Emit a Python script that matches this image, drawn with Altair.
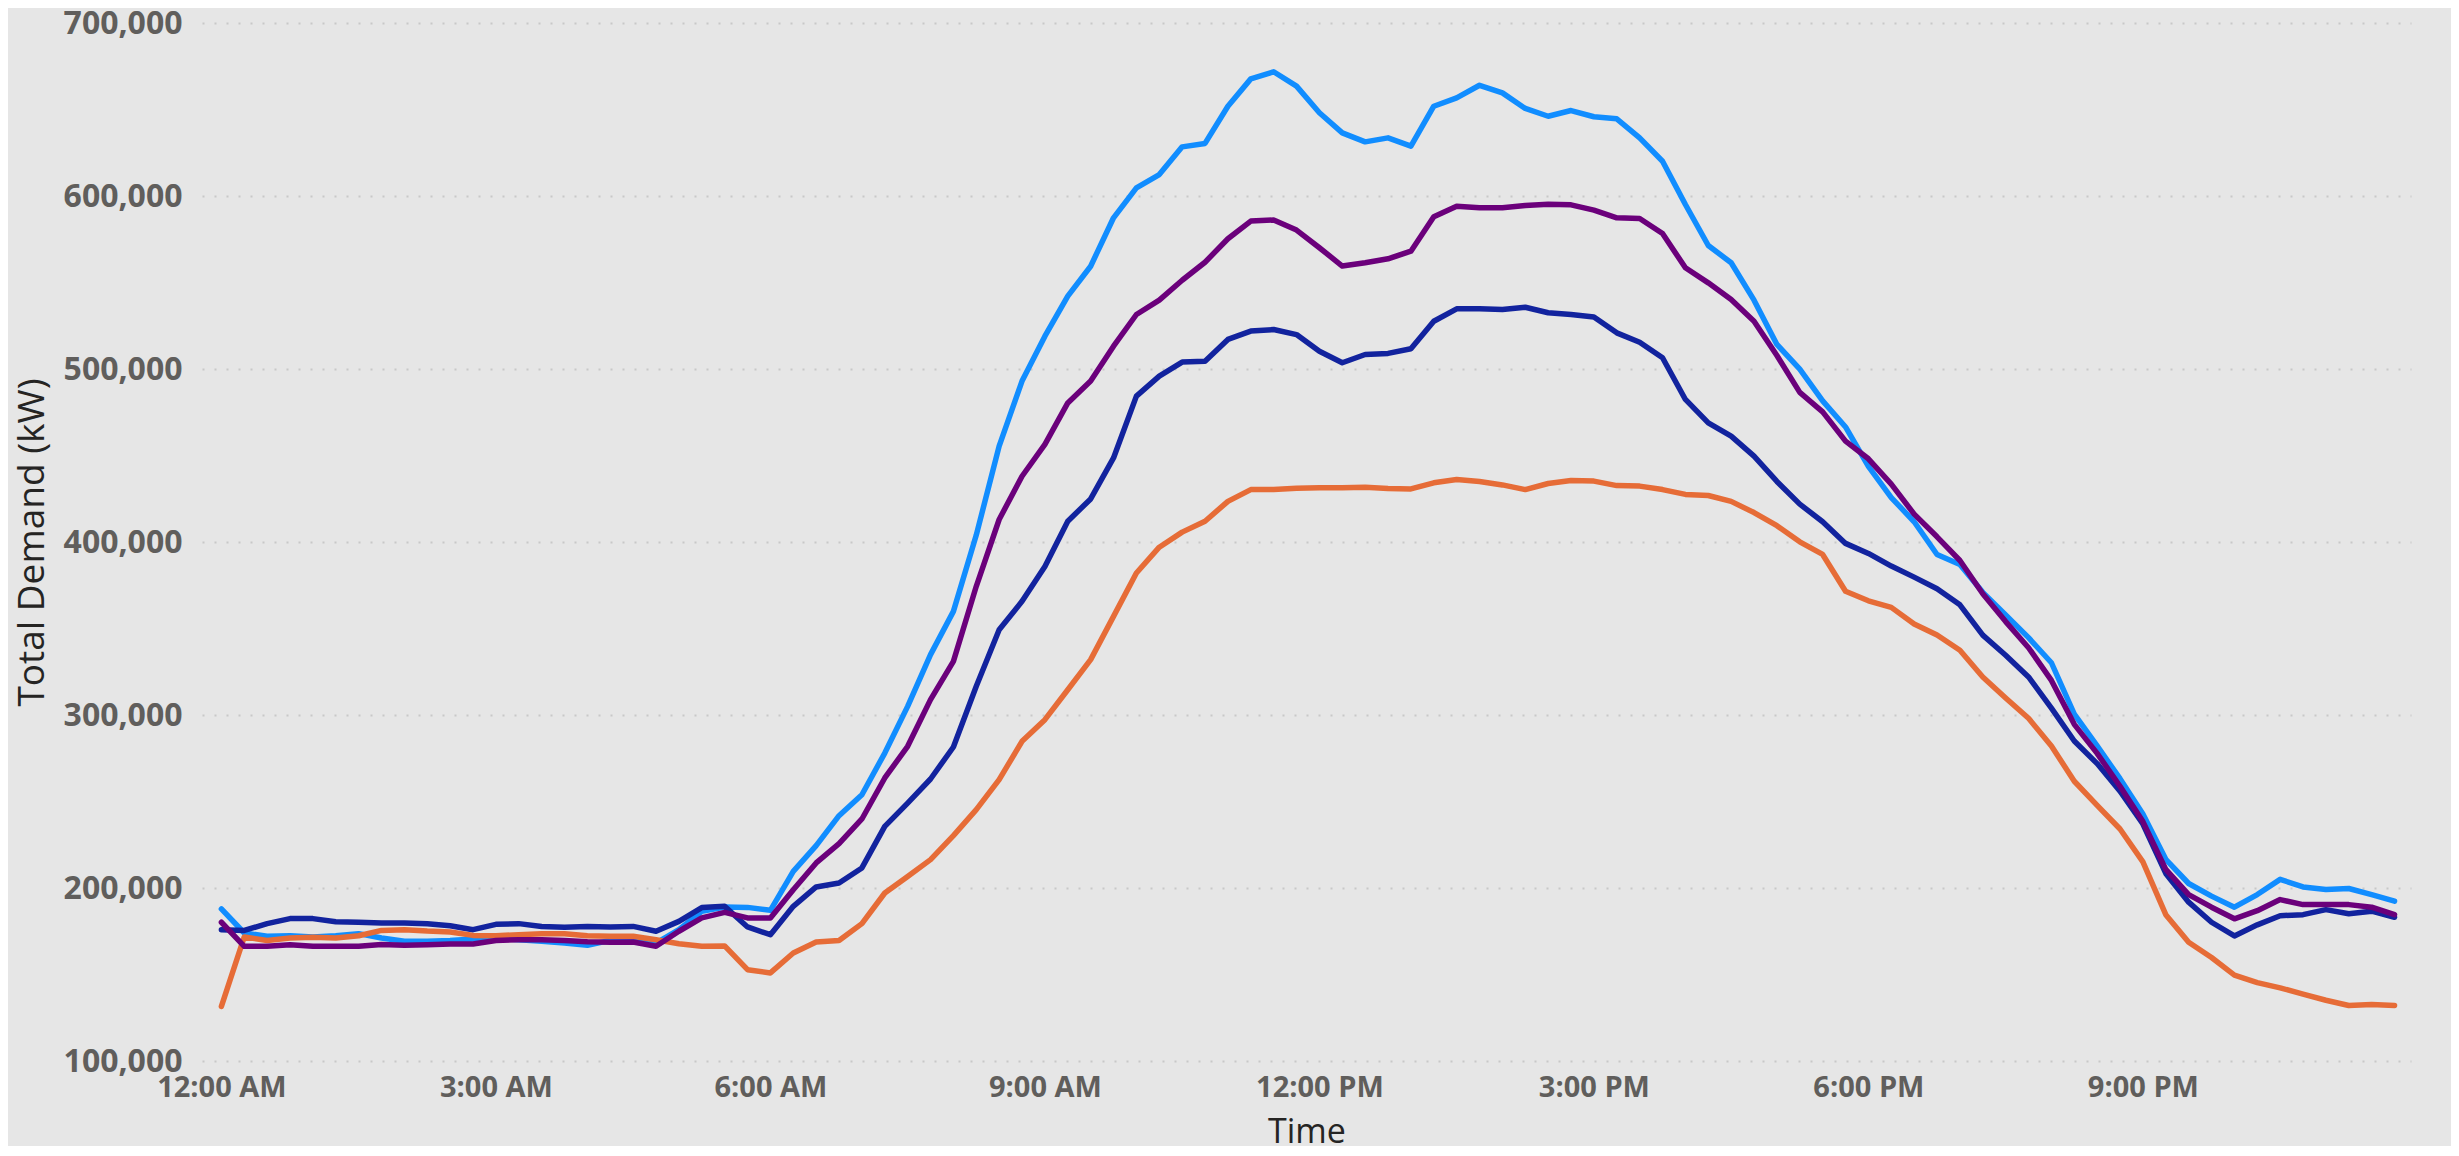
import altair as alt
import pandas as pd

# 15-minute intervals over one day (hours since midnight)
TIME_HOURS = [q / 4 for q in range(96)]

SERIES = ["Series 1", "Series 2", "Series 3", "Series 4"]
COLORS = ["#118DFF", "#12239E", "#E66C37", "#6B007B"]

# values in thousands of kW
S1_LIGHT_BLUE = [
    187.9, 174.0, 172.1, 172.4, 171.7, 172.4, 173.6, 171.1, 169.2, 169.2, 169.7, 170.5,
    171.1, 170.1, 169.2, 168.2, 166.9, 169.7, 170.1, 168.2, 175.9, 186.5, 189.0, 188.8,
    187.1, 209.6, 224.5, 241.8, 253.9, 278.0, 305.0, 334.9, 359.9, 404.0, 455.4, 493.0,
    519.0, 542.1, 559.4, 587.4, 604.7, 612.4, 628.4, 630.4, 651.9, 667.7, 671.8, 663.5,
    648.1, 636.5, 631.3, 633.6, 628.8, 651.9, 656.7, 664.0, 659.6, 650.6, 646.1, 649.4,
    645.8, 644.6, 633.6, 620.1, 595.1, 571.4, 561.4, 539.8, 514.2, 499.9, 481.6, 466.5,
    443.7, 425.7, 411.7, 392.8, 387.0, 370.9, 357.8, 344.7, 330.2, 300.5, 282.1, 263.2,
    242.8, 216.6, 202.6, 195.3, 188.9, 196.2, 205.0, 200.6, 199.1, 199.7, 196.2, 192.4,
]
S2_DARK_BLUE = [
    175.9, 175.5, 179.4, 182.3, 182.3, 180.5, 180.2, 179.8, 179.8, 179.4, 178.2, 175.9,
    179.0, 179.4, 177.8, 177.3, 177.8, 177.5, 177.8, 175.0, 180.7, 188.7, 189.4, 177.5,
    173.0, 189.4, 200.6, 202.9, 211.6, 235.6, 249.1, 263.0, 281.5, 316.6, 349.3, 365.7,
    385.9, 412.0, 424.9, 448.6, 484.3, 495.9, 504.0, 504.5, 517.1, 521.9, 522.8, 519.9,
    510.3, 503.6, 508.4, 509.0, 511.7, 527.6, 534.8, 534.8, 534.4, 535.7, 532.5, 531.5,
    530.0, 520.9, 515.5, 506.5, 482.4, 468.9, 461.2, 449.6, 435.0, 421.9, 411.7, 399.2,
    393.4, 386.1, 379.7, 373.0, 363.7, 346.2, 334.5, 322.0, 304.0, 285.0, 271.9, 255.9,
    237.0, 208.4, 191.8, 180.2, 172.3, 178.7, 184.0, 184.6, 187.5, 185.1, 186.6, 183.1,
]
S3_ORANGE = [
    131.6, 171.7, 169.7, 171.1, 171.5, 171.1, 172.4, 175.5, 175.9, 175.1, 174.6, 172.6,
    172.4, 173.0, 173.6, 173.6, 172.4, 172.1, 172.1, 170.1, 167.8, 166.3, 166.5, 152.8,
    150.9, 162.4, 168.8, 169.7, 179.4, 197.1, 206.7, 216.4, 230.3, 245.3, 262.6, 284.8,
    297.3, 314.6, 332.0, 357.0, 382.1, 397.0, 405.7, 412.0, 423.5, 430.3, 430.3, 431.1,
    431.3, 431.3, 431.7, 430.9, 430.7, 434.2, 436.1, 435.0, 433.0, 430.3, 433.8, 435.5,
    435.2, 432.6, 432.3, 430.3, 427.5, 426.9, 423.5, 417.0, 409.4, 400.1, 392.8, 371.5,
    366.0, 362.2, 352.6, 346.2, 337.4, 322.0, 309.8, 298.1, 282.1, 261.7, 247.8, 234.1,
    215.1, 184.6, 168.6, 159.8, 149.6, 145.3, 142.3, 138.6, 135.1, 132.1, 132.7, 132.1,
]
S4_PURPLE = [
    180.2, 166.3, 166.3, 167.2, 166.3, 166.3, 166.3, 167.4, 166.9, 167.2, 167.6, 167.6,
    169.7, 170.1, 170.1, 169.7, 169.0, 168.6, 168.8, 166.3, 175.0, 182.7, 185.9, 182.7,
    182.7, 199.0, 214.5, 225.6, 239.9, 263.6, 281.9, 308.9, 331.0, 374.4, 413.0, 438.0,
    456.4, 480.4, 493.0, 513.2, 531.5, 539.8, 551.3, 561.7, 575.3, 585.5, 586.1, 580.3,
    570.1, 559.5, 561.4, 563.7, 568.1, 588.0, 594.1, 593.2, 593.2, 594.5, 595.3, 594.9,
    591.8, 587.4, 587.0, 578.3, 558.5, 549.8, 540.2, 527.6, 507.8, 486.5, 475.2, 458.3,
    448.1, 433.5, 416.1, 403.0, 389.3, 370.1, 354.0, 338.9, 320.0, 294.6, 277.8, 258.8,
    238.4, 210.8, 196.2, 188.9, 182.2, 186.9, 193.3, 190.4, 190.4, 190.4, 188.9, 184.6,
]

X_TICKS = [0, 3, 6, 9, 12, 15, 18, 21]
X_TICK_LABELS = ["12:00 AM", "3:00 AM", "6:00 AM", "9:00 AM",
                 "12:00 PM", "3:00 PM", "6:00 PM", "9:00 PM"]
Y_TICKS = [100000, 200000, 300000, 400000, 500000, 600000, 700000]

rows = []
for name, vals in zip(SERIES, [S1_LIGHT_BLUE, S2_DARK_BLUE, S3_ORANGE, S4_PURPLE]):
    for t, v in zip(TIME_HOURS, vals):
        rows.append({"series": name, "t": t, "v": v * 1000})
df = pd.DataFrame(rows)

label_expr = "[" + ",".join("'" + s + "'" for s in X_TICK_LABELS) + "][round(datum.value / 3)]"

FONT = "Open Sans"

chart = alt.Chart(df).mark_line(
    strokeWidth=5.5, strokeCap="round", strokeJoin="round"
).encode(
    x=alt.X(
        "t:Q",
        scale=alt.Scale(domain=[-0.212, 23.93], nice=False, zero=False),
        axis=alt.Axis(
            values=X_TICKS, labelExpr=label_expr, title="Time",
            grid=False, ticks=False, domain=False,
            labelFont=FONT, labelFontWeight="bold", labelFontSize=29,
            labelColor="#605E5C", labelPadding=12,
            titleFont=FONT, titleFontSize=34, titleFontWeight="normal",
            titleColor="#252423", titleY=81, titleBaseline="alphabetic",
        ),
    ),
    y=alt.Y(
        "v:Q",
        scale=alt.Scale(domain=[100000, 700000], nice=False, zero=False),
        axis=alt.Axis(
            values=Y_TICKS, format=",.0f", title="Total Demand (kW)",
            grid=True, gridDash=[2, 10], gridColor="#C8C8C8", gridWidth=2,
            ticks=False, domain=False,
            labelFont=FONT, labelFontWeight="bold", labelFontSize=32,
            labelColor="#605E5C", labelPadding=20,
            titleFont=FONT, titleFontSize=37, titleFontWeight="normal",
            titleColor="#252423", titleX=-170, titleY=519, titleAngle=270,
            titleBaseline="middle", titleAlign="center",
        ),
    ),
    color=alt.Color("series:N", scale=alt.Scale(domain=SERIES, range=COLORS), legend=None),
).properties(
    width=2209,
    height=1038,
    background="#E6E6E6",
    padding={"left": 194, "top": 15, "right": 40, "bottom": 85},
    autosize=alt.AutoSizeParams(type="none"),
).configure_view(stroke=None)

chart.save("out.html", embed_options={"renderer": "svg", "actions": False})
